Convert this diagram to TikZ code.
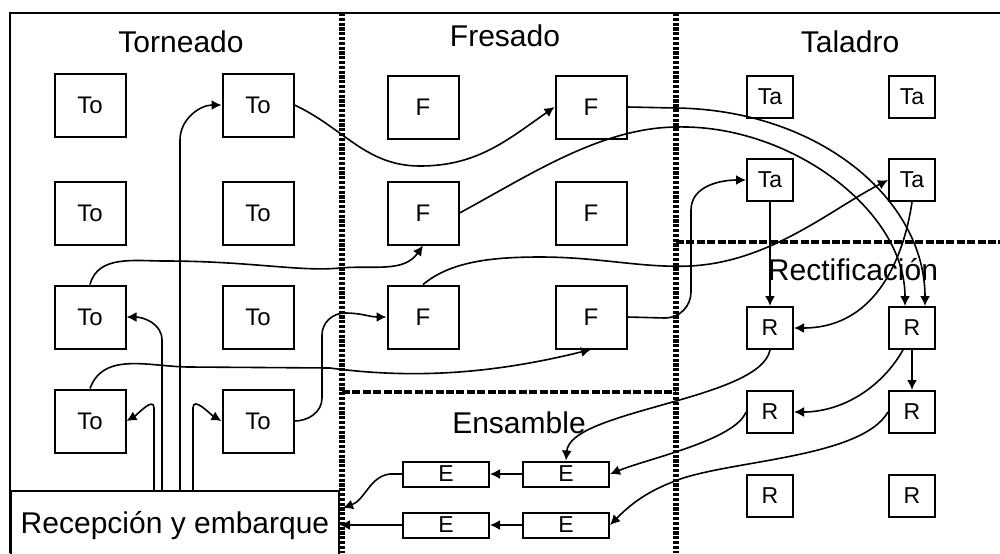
\documentclass[tikz,border=0pt]{standalone}
\usepackage{fontspec}
\setmainfont{Liberation Sans}
\usetikzlibrary{calc}
\usetikzlibrary{arrows.meta}
\tikzset{
 mach/.style={draw, line width=1pt, inner sep=0pt, minimum width=35.5pt, minimum height=31.5pt, font=\fontsize{12}{14}\selectfont},
 smallmach/.style={mach, minimum width=23pt, minimum height=21pt, font=\fontsize{11.5}{13}\selectfont},
 flatmach/.style={mach, minimum width=43pt, minimum height=12.5pt, font=\fontsize{11.5}{13}\selectfont},
 zone/.style={font=\fontsize{15}{18}\selectfont, anchor=base},
 flow/.style={line width=0.8pt, ->, >={Latex[length=5pt,width=5pt]}},
 wall/.style={line width=1.2pt},
 dotwall/.style={line width=2.6pt, dash pattern=on 1.6pt off 0.8pt},
 dashwall/.style={line width=1.8pt, dash pattern=on 4pt off 1.2pt}
}

\begin{document}
\begin{tikzpicture}[x=0.5pt,y=-0.5pt]
\useasboundingbox (0,0) rectangle (1000,553);
% paredes de la planta
\draw[wall] (10,553) -- (10,13) -- (1000,13);
\draw[dotwall] (342,13) -- (342,553);
\draw[dotwall] (676,13) -- (676,553);
\draw[dashwall] (342,392) -- (676,392);
\draw[dashwall] (676,242) -- (1000,242);

\node[zone] (torneado) at (181,52) {Torneado};
\node[zone] (fresado) at (505,46) {Fresado};
\node[zone] (taladro) at (850,52) {Taladro};
\node[zone] (ensamble) at (519,433) {Ensamble};
\node[zone] (rectif) at (853,280) {Rectificación};

% maquinas
\foreach \c/\x in {1/90,2/258}
 \foreach \r/\y in {1/105,2/213,3/317,4/421}
  \node[mach] (To\r\c) at (\x,\y) {To};
\foreach \c/\x in {1/423,2/591}
 \foreach \r/\y in {1/107,2/213,3/317}
  \node[mach] (F\r\c) at (\x,\y) {F};
\foreach \c/\x in {1/770,2/912}
 \foreach \r/\y in {1/97,2/180}
  \node[smallmach] (Ta\r\c) at (\x,\y) {Ta};
\foreach \c/\x in {1/770,2/912}
 \foreach \r/\y in {1/328,2/412,3/496}
  \node[smallmach] (R\r\c) at (\x,\y) {R};
\foreach \c/\x in {1/446,2/566}
 \foreach \r/\y in {1/474,2/525}
  \node[flatmach] (E\r\c) at (\x,\y) {E};

\node[draw, line width=1pt, inner sep=0pt, minimum width=164pt, minimum height=40pt, anchor=north west] (recbox) at (10,490) {};
\node[zone] (recep) at (175,533) {Recepción y embarque};

% recorridos
\draw[flow] ($(recbox.north west)+(170,0)$) -- (180,140) to[out=90,in=180] (To12.west);
\draw[flow] ($(recbox.north west)+(152,0)$) -- (162,340) to[out=90,in=0] (To31.east);
\draw[flow] ($(recbox.north west)+(144,0)$) -- (154,408) to[out=90,in=30] (To41.east);
\draw[flow] ($(recbox.north west)+(183,0)$) -- (193,408) to[out=90,in=150] (To42.west);
\draw[flow] (To12.east) to[out=-25,in=180] (420,166) to[out=0,in=215] (F12.west);
\draw[flow] (F12.east) -- (676,108) .. controls (820,110) and (925,200) .. ([xshift=6.5pt]R12.north);
\draw[flow] (F21.east) .. controls (530,175) and (600,128) .. (676,127) .. controls (790,124) and (905,210) .. ([xshift=-3.5pt]R12.north);
\draw[flow] (To31.north) to[out=75,in=180] (165,261) .. controls (250,261) and (300,272) .. (340,268) to[out=5,in=235] (F21.south);
\draw[flow] (To41.north) to[out=70,in=180] (190,367) -- (330,368) .. controls (420,380) and (500,372) .. (F32.south);
\draw[flow] (To42.east) to[out=0,in=-90] (322,398) -- (322,335) to[out=90,in=180] (345,313) to[out=0,in=180] (F31.west);
\draw[flow] (F31.north) .. controls (450,262) and (490,257) .. (540,257) .. controls (600,257) and (640,268) .. (690,266) .. controls (770,262) and (830,210) .. (Ta22.west);
\draw[flow] (F32.east) -- (665,318) to[out=0,in=-90] (691,292) -- (691,210) to[out=90,in=180] (Ta21.west);
\draw[flow] (Ta21.south) -- (R11.north);
\draw[flow] (Ta22.south) .. controls (905,250) and (880,328) .. (R11.east);
\draw[flow] (R12.south) -- (R22.north);
\draw[flow] ([xshift=-4.5pt]R12.south) .. controls (880,390) and (840,412) .. (R21.east);
\draw[flow] (R11.south) .. controls (760,400) and (570,410) .. (E12.north);
\draw[flow] (R21.west) .. controls (735,440) and (650,458) .. (E12.east);
\draw[flow] (R22.west) .. controls (860,460) and (720,460) .. (670,483) .. controls (640,495) and (625,510) .. (E22.east);
\draw[flow] (E12.west) -- (E11.east);
\draw[flow] (E22.west) -- (E21.east);
\draw[flow] (E11.west) -- (390,474) .. controls (370,476) and (365,500) .. ($(recbox.north east)+(3,18)$);
\draw[flow] (E21.west) -- (E21.west -| recbox.east);
\end{tikzpicture}
\end{document}
